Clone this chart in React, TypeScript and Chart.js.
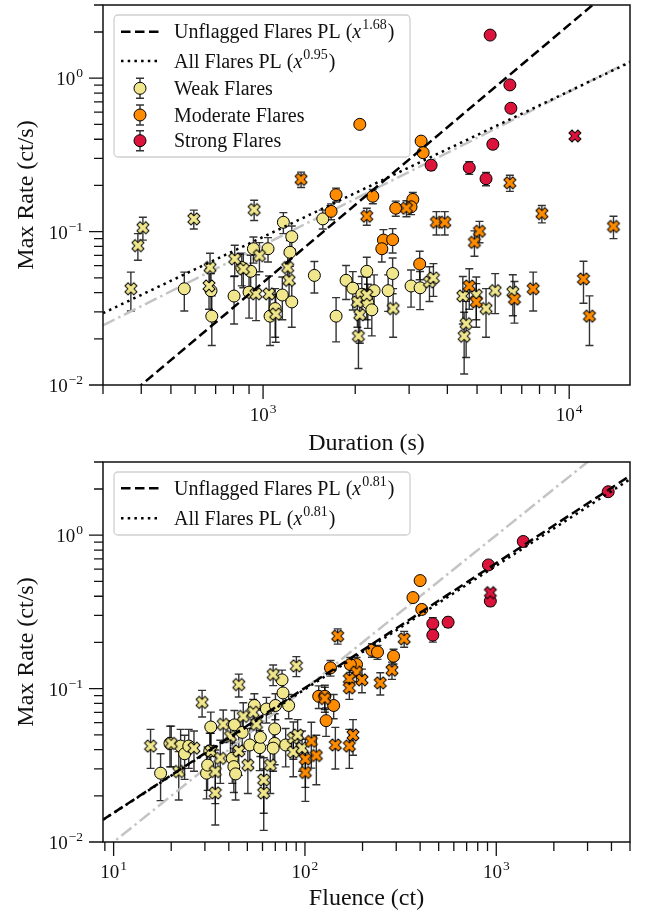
import { useEffect, useRef } from "react";
import { Chart, registerables } from "chart.js";

Chart.register(...registerables);

const SERIF = '"Liberation Serif", "Times New Roman", serif';
const INK = "#111111";
const WEAK = "#F0E68C";
const MODERATE = "#FF8C00";
const STRONG = "#DC143C";

// ---------- axis limits ----------
const RATE_MIN = 0.01;
const RATE_MAX = 3.0;
const RATE_DECADES = [-2, -1, 0];

const DURATION_MIN = 300;
const DURATION_MAX = 15800;
const DURATION_DECADES = [3, 4];

const FLUENCE_MIN = 8.8;
const FLUENCE_MAX = 5000;
const FLUENCE_DECADES = [1, 2, 3];

// ---------- duration panel: duration (s), max rate (ct/s), rate error (ct/s) ----------
const wkDur = [553, 676, 680, 804, 852, 911, 930, 1038, 900, 1054, 1095, 1156, 1241, 1165, 1241, 1224, 1471, 1567, 1732, 1867, 1964, 2182, 2102, 2199, 2266, 2305, 2562, 2650, 3044, 3258];
const wkDurRate = [0.0424, 0.0412, 0.0281, 0.038, 0.0583, 0.0551, 0.0773, 0.0773, 0.0403, 0.0281, 0.0315, 0.0386, 0.0348, 0.115, 0.0927, 0.0733, 0.0518, 0.121, 0.0281, 0.0481, 0.0428, 0.0551, 0.039, 0.0344, 0.0309, 0.0412, 0.0412, 0.0533, 0.0442, 0.043];
const wkDurErr = [0.012, 0.012, 0.01, 0.013, 0.014, 0.015, 0.015, 0.014, 0.013, 0.01, 0.011, 0.012, 0.011, 0.018, 0.016, 0.014, 0.012, 0.017, 0.009, 0.012, 0.012, 0.013, 0.012, 0.011, 0.01, 0.011, 0.011, 0.014, 0.012, 0.012];

const wkfDur = [370, 390, 405, 594, 935, 671, 666, 808, 862, 973, 949, 1046, 1100, 1204, 1216, 2033, 2070, 2049, 2182, 2660, 3496, 3602, 4494, 4606, 4538, 4972, 5350, 5731, 6546];
const wkfDurRate = [0.0424, 0.081, 0.106, 0.121, 0.139, 0.0583, 0.0442, 0.0664, 0.057, 0.0697, 0.0393, 0.0393, 0.029, 0.0583, 0.0481, 0.0348, 0.0287, 0.0208, 0.0386, 0.0315, 0.047, 0.0498, 0.038, 0.0251, 0.0208, 0.0386, 0.0315, 0.0412, 0.0403];
const wkfDurErr = [0.012, 0.016, 0.018, 0.017, 0.021, 0.014, 0.013, 0.015, 0.014, 0.015, 0.013, 0.012, 0.01, 0.013, 0.013, 0.011, 0.01, 0.008, 0.012, 0.011, 0.012, 0.012, 0.013, 0.01, 0.009, 0.012, 0.011, 0.012, 0.012];

const mdDur = [2070, 3283, 3334, 1732, 1668, 2283, 2713, 3085, 3044, 2473, 2650, 2443, 3248];
const mdDurRate = [0.5, 0.389, 0.327, 0.174, 0.1355, 0.17, 0.142, 0.162, 0.145, 0.088, 0.0885, 0.0773, 0.0615];
const mdDurErr = [0.02, 0.02, 0.02, 0.018, 0.016, 0.018, 0.016, 0.018, 0.016, 0.015, 0.016, 0.014, 0.013];

const mdfDur = [1331, 2182, 2940, 3684, 3922, 5092, 4903, 6401, 8143, 13955, 11136, 11649, 7627, 6625, 4972, 4716];
const mdfDurRate = [0.219, 0.126, 0.142, 0.115, 0.115, 0.1005, 0.0851, 0.208, 0.131, 0.108, 0.0491, 0.0281, 0.0424, 0.0363, 0.0348, 0.0442];
const mdfDurErr = [0.025, 0.016, 0.017, 0.02, 0.02, 0.016, 0.016, 0.025, 0.017, 0.018, 0.015, 0.01, 0.012, 0.011, 0.011, 0.013];

const stDur = [5518, 6401, 6450, 5632, 3540, 4716, 5350];
const stDurRate = [1.91, 0.904, 0.637, 0.371, 0.271, 0.261, 0.221];
const stDurErr = [0.03, 0.03, 0.03, 0.025, 0.02, 0.025, 0.022];

const stfDur = [10438];
const stfDurRate = [0.42];
const stfDurErr = [0.02];

// ---------- fluence panel: fluence (ct), max rate (ct/s), rate error (ct/s) ----------
const wkFlu = [17.6, 19.7, 22.4, 23.5, 24.7, 30.6, 31.0, 31.8, 32.2, 42.8, 47.0, 41.7, 42.5, 43.4, 51.5, 54.4, 58.0, 58.5, 62.9, 70.1, 69.5, 69.5, 68.2, 75.9, 76.8, 82.2, 79.3];
const wkFluRate = [0.0281, 0.0439, 0.0422, 0.0376, 0.0422, 0.0281, 0.0317, 0.0392, 0.0562, 0.058, 0.0518, 0.0351, 0.031, 0.0278, 0.0429, 0.0776, 0.0412, 0.0481, 0.0736, 0.0776, 0.0546, 0.0439, 0.0409, 0.114, 0.0937, 0.0776, 0.0429];
const wkFluErr = [0.0095, 0.013, 0.012, 0.012, 0.012, 0.009, 0.01, 0.012, 0.014, 0.014, 0.013, 0.011, 0.01, 0.009, 0.012, 0.015, 0.012, 0.012, 0.014, 0.015, 0.014, 0.012, 0.012, 0.018, 0.016, 0.014, 0.012];

const wkfFlu = [15.6, 20.0, 21.9, 26.3, 29.0, 32.2, 34.0, 34.0, 37.4, 36.1, 40.8, 45.1, 45.1, 47.6, 50.3, 53.6, 55.8, 60.9, 60.9, 65.9, 68.2, 87.0, 86.9, 90.2, 91.6, 96.6];
const wkfFluRate = [0.0422, 0.0439, 0.0288, 0.0409, 0.0813, 0.0392, 0.0288, 0.0209, 0.0585, 0.0351, 0.0488, 0.1062, 0.0392, 0.0659, 0.0317, 0.07, 0.0585, 0.0254, 0.0209, 0.0317, 0.1235, 0.0476, 0.0386, 0.1406, 0.0498, 0.0409];
const wkfFluErr = [0.012, 0.013, 0.01, 0.012, 0.016, 0.012, 0.011, 0.008, 0.014, 0.011, 0.013, 0.018, 0.012, 0.015, 0.011, 0.015, 0.014, 0.01, 0.009, 0.011, 0.019, 0.013, 0.012, 0.021, 0.013, 0.012];

const mdFlu = [400, 367, 408, 224, 239.5, 290.5, 136, 186, 172.6, 118, 127, 141.3, 129];
const mdFluRate = [0.506, 0.392, 0.328, 0.178, 0.173, 0.1626, 0.1365, 0.1435, 0.1435, 0.0891, 0.0891, 0.0776, 0.0618];
const mdFluErr = [0.02, 0.02, 0.02, 0.018, 0.018, 0.018, 0.016, 0.016, 0.016, 0.015, 0.016, 0.014, 0.013];

const mdfFlu = [148.3, 330, 186, 198.6, 170.6, 170.6, 247.6, 285, 127, 108, 100.5, 114.7, 100.5, 144.2, 170.6, 178.3];
const mdfFluRate = [0.22, 0.211, 0.128, 0.114, 0.1157, 0.101, 0.1089, 0.1318, 0.0861, 0.0453, 0.0347, 0.0366, 0.0284, 0.0429, 0.0422, 0.0498];
const mdfFluErr = [0.025, 0.025, 0.017, 0.02, 0.02, 0.016, 0.018, 0.017, 0.016, 0.015, 0.012, 0.013, 0.01, 0.013, 0.012, 0.013];

const stFlu = [3846, 1384, 910, 931, 466, 466, 560];
const stFluRate = [1.92, 0.91, 0.64, 0.372, 0.265, 0.223, 0.271];
const stFluErr = [0.03, 0.03, 0.03, 0.025, 0.025, 0.022, 0.02];

const stfFlu = [931];
const stfFluRate = [0.422];
const stfFluErr = [0.02];

// ---------- power-law fits: rate = norm * (x / pivot) ** index ----------
const DUR_PIVOT = 1000;
const durUnflaggedIndex = 1.68;
const durUnflaggedNorm = 0.0466;
const durAllIndex = 0.95;
const durAllNorm = 0.0923;
const durReferenceNorm = 1000 / 12250; // slope-one guide, rate at 1000 s

const FLU_PIVOT = 1000;
const fluUnflaggedIndex = 0.814;
const fluUnflaggedNorm = 0.658;
const fluAllIndex = 0.806;
const fluAllNorm = 0.633;
const fluReferenceNorm = 1.0; // rate = fluence / 1000 s

type Pt = { x: number; y: number; e: number };
const points = (xs: number[], ys: number[], es: number[]): Pt[] =>
  xs.map((x, i) => ({ x, y: ys[i], e: es[i] }));

const powerLine = (pivot: number, norm: number, index: number, lo: number, hi: number) =>
  [lo, hi].map((x) => ({ x, y: norm * Math.pow(x / pivot, index) }));

// filled "X" marker
function crossMarker(fill: string): HTMLCanvasElement {
  const s = 18;
  const c = document.createElement("canvas");
  c.width = s;
  c.height = s;
  const g = c.getContext("2d")!;
  g.translate(s / 2, s / 2);
  g.rotate(Math.PI / 4);
  const r = 6.3;
  const h = 2.2;
  g.beginPath();
  g.moveTo(h, h);
  g.lineTo(h, r);
  g.lineTo(-h, r);
  g.lineTo(-h, h);
  g.lineTo(-r, h);
  g.lineTo(-r, -h);
  g.lineTo(-h, -h);
  g.lineTo(-h, -r);
  g.lineTo(h, -r);
  g.lineTo(h, -h);
  g.lineTo(r, -h);
  g.lineTo(r, h);
  g.closePath();
  g.fillStyle = fill;
  g.fill();
  g.lineWidth = 1;
  g.strokeStyle = "#000";
  g.lineJoin = "miter";
  g.stroke();
  return c;
}

function scatterSet(data: Pt[], color: string, crossed: boolean) {
  return {
    type: "scatter",
    data,
    errorBars: true,
    pointStyle: crossed ? crossMarker(color) : "circle",
    pointRadius: crossed ? 6.5 : 6,
    backgroundColor: color,
    borderColor: "#000",
    borderWidth: crossed ? 0 : 1,
  };
}

function lineSet(data: { x: number; y: number }[], color: string, dash: number[], width = 2.5) {
  return {
    type: "line",
    data,
    borderColor: color,
    borderWidth: width,
    borderDash: dash,
    borderCapStyle: "butt",
    pointRadius: 0,
    fill: false,
    tension: 0,
    clip: 0,
  };
}

const DASH = [9.5, 4.5];
const DOT = [2.5, 4.2];
const DASH_DOT = [13, 4, 2.5, 4];

type Row = { kind: "dash" | "dot" | "marker"; color?: string; text: string; exp?: string; y: number };

interface Panel {
  xMin: number;
  xMax: number;
  xDecades: number[];
  padTop: number;
  xAxisHeight: number;
  xTitle: string;
  legendBox: [number, number, number, number];
  rows: Row[];
  datasets: any[];
}

function logTicks(min: number, max: number) {
  const out: { v: number; major: boolean }[] = [];
  for (let k = Math.floor(Math.log10(min)); k <= Math.ceil(Math.log10(max)); k++) {
    for (let m = 1; m <= 9; m++) {
      const v = m * Math.pow(10, k);
      if (v >= min * 0.9999 && v <= max * 1.0001) out.push({ v, major: m === 1 });
    }
  }
  return out;
}

function drawPower(ctx: CanvasRenderingContext2D, exp: number, x: number, baseline: number, align: "center" | "right") {
  const base = "10";
  const sup = exp < 0 ? "\u2212" + Math.abs(exp) : String(exp);
  ctx.font = `19px ${SERIF}`;
  const bw = ctx.measureText(base).width;
  ctx.font = `13.5px ${SERIF}`;
  const sw = ctx.measureText(sup).width;
  const total = bw + 1 + sw;
  const sx = align === "center" ? x - total / 2 : x - total;
  ctx.textAlign = "left";
  ctx.textBaseline = "alphabetic";
  ctx.font = `19px ${SERIF}`;
  ctx.fillText(base, sx, baseline);
  ctx.font = `13.5px ${SERIF}`;
  ctx.fillText(sup, sx + bw + 1, baseline - 8);
}

const errorBarPlugin = {
  id: "errorBars",
  beforeDatasetsDraw(chart: any) {
    const { ctx, chartArea: a } = chart;
    const xs = chart.scales.x;
    const ys = chart.scales.y;
    ctx.save();
    ctx.beginPath();
    ctx.rect(a.left, a.top, a.right - a.left, a.bottom - a.top);
    ctx.clip();
    ctx.strokeStyle = "rgba(0,0,0,0.8)";
    ctx.lineWidth = 1.4;
    for (const ds of chart.data.datasets) {
      if (!ds.errorBars) continue;
      for (const p of ds.data as Pt[]) {
        const px = xs.getPixelForValue(p.x);
        const top = ys.getPixelForValue(p.y + p.e);
        const bot = ys.getPixelForValue(Math.max(p.y - p.e, 1e-4));
        ctx.beginPath();
        ctx.moveTo(px, top);
        ctx.lineTo(px, bot);
        ctx.moveTo(px - 4, top);
        ctx.lineTo(px + 4, top);
        ctx.moveTo(px - 4, bot);
        ctx.lineTo(px + 4, bot);
        ctx.stroke();
      }
    }
    ctx.restore();
  },
};

function legendPlugin(p: Panel) {
  return {
    id: "flareLegend",
    beforeDatasetsDraw(chart: any) {
      const ctx: CanvasRenderingContext2D = chart.ctx;
      const [bx, by, bw, bh] = p.legendBox;
      ctx.save();
      ctx.beginPath();
      ctx.roundRect(bx, by, bw, bh, 4);
      ctx.fillStyle = "rgba(255,255,255,0.85)";
      ctx.fill();
      ctx.strokeStyle = "#d0d0d0";
      ctx.lineWidth = 1.3;
      ctx.stroke();
      for (const r of p.rows) {
        ctx.setLineDash([]);
        ctx.strokeStyle = "#000";
        if (r.kind === "dash" || r.kind === "dot") {
          ctx.lineWidth = 2.5;
          ctx.lineCap = "butt";
          ctx.setLineDash(r.kind === "dash" ? DASH : DOT);
          ctx.beginPath();
          ctx.moveTo(121, r.y);
          ctx.lineTo(159, r.y);
          ctx.stroke();
          ctx.setLineDash([]);
        } else {
          ctx.lineWidth = 1.4;
          ctx.strokeStyle = "rgba(0,0,0,0.8)";
          ctx.beginPath();
          ctx.moveTo(140, r.y - 10);
          ctx.lineTo(140, r.y + 10);
          ctx.moveTo(136, r.y - 10);
          ctx.lineTo(144, r.y - 10);
          ctx.moveTo(136, r.y + 10);
          ctx.lineTo(144, r.y + 10);
          ctx.stroke();
          ctx.beginPath();
          ctx.arc(140, r.y, 6, 0, Math.PI * 2);
          ctx.fillStyle = r.color!;
          ctx.fill();
          ctx.lineWidth = 1;
          ctx.strokeStyle = "#000";
          ctx.stroke();
        }
        ctx.fillStyle = INK;
        ctx.textAlign = "left";
        ctx.textBaseline = "alphabetic";
        ctx.font = `20px ${SERIF}`;
        const base = r.y + 6.5;
        ctx.fillText(r.text, 174, base);
        if (r.exp) {
          let x = 174 + ctx.measureText(r.text).width;
          ctx.font = `italic 20px ${SERIF}`;
          ctx.fillText("x", x, base);
          x += ctx.measureText("x").width + 1;
          ctx.font = `14px ${SERIF}`;
          ctx.fillText(r.exp, x, base - 9);
          x += ctx.measureText(r.exp).width + 1;
          ctx.font = `20px ${SERIF}`;
          ctx.fillText(")", x, base);
        }
      }
      ctx.restore();
    },
  };
}

function framePlugin(p: Panel) {
  return {
    id: "frame",
    afterDraw(chart: any) {
      const ctx: CanvasRenderingContext2D = chart.ctx;
      const a = chart.chartArea;
      const xs = chart.scales.x;
      const ys = chart.scales.y;
      ctx.save();
      ctx.setLineDash([]);
      ctx.strokeStyle = INK;
      ctx.lineWidth = 1.5;
      ctx.strokeRect(a.left, a.top, a.right - a.left, a.bottom - a.top);

      ctx.lineWidth = 1.3;
      ctx.beginPath();
      for (const t of logTicks(p.xMin, p.xMax)) {
        const px = xs.getPixelForValue(t.v);
        ctx.moveTo(px, a.bottom);
        ctx.lineTo(px, a.bottom + (t.major ? 14 : 9));
      }
      for (const t of logTicks(RATE_MIN, RATE_MAX)) {
        const py = ys.getPixelForValue(t.v);
        ctx.moveTo(a.left, py);
        ctx.lineTo(a.left - (t.major ? 14 : 9), py);
      }
      ctx.stroke();

      ctx.fillStyle = INK;
      for (const e of p.xDecades) {
        drawPower(ctx, e, xs.getPixelForValue(Math.pow(10, e)), a.bottom + 36, "center");
      }
      for (const e of RATE_DECADES) {
        drawPower(ctx, e, a.left - 20, ys.getPixelForValue(Math.pow(10, e)) + 7, "right");
      }

      ctx.font = `24px ${SERIF}`;
      ctx.textAlign = "center";
      ctx.textBaseline = "alphabetic";
      ctx.fillText(p.xTitle, (a.left + a.right) / 2, 450);
      ctx.translate(33, (a.top + a.bottom) / 2);
      ctx.rotate(-Math.PI / 2);
      ctx.fillText("Max Rate (ct/s)", 0, 0);
      ctx.restore();
    },
  };
}

function buildConfig(p: Panel): any {
  return {
    type: "scatter",
    data: { datasets: p.datasets },
    options: {
      responsive: false,
      animation: false,
      devicePixelRatio: 1,
      events: [],
      layout: { padding: { top: p.padTop, right: 21, left: 0, bottom: 0 }, autoPadding: false },
      plugins: { legend: { display: false }, tooltip: { enabled: false } },
      scales: {
        x: {
          type: "logarithmic",
          min: p.xMin,
          max: p.xMax,
          bounds: "data",
          grid: { display: false },
          border: { display: false },
          ticks: { display: false },
          afterFit: (s: any) => {
            s.height = p.xAxisHeight;
          },
        },
        y: {
          type: "logarithmic",
          min: RATE_MIN,
          max: RATE_MAX,
          bounds: "data",
          grid: { display: false },
          border: { display: false },
          ticks: { display: false },
          afterFit: (s: any) => {
            s.width = 103;
          },
        },
      },
    },
    plugins: [errorBarPlugin, legendPlugin(p), framePlugin(p)],
  };
}

function durationPanel(): Panel {
  const lo = DURATION_MIN;
  const hi = DURATION_MAX;
  return {
    xMin: lo,
    xMax: hi,
    xDecades: DURATION_DECADES,
    padTop: 5,
    xAxisHeight: 70,
    xTitle: "Duration (s)",
    legendBox: [114, 15, 296, 142],
    rows: [
      { kind: "dash", text: "Unflagged Flares PL (", exp: "1.68", y: 31.7 },
      { kind: "dot", text: "All Flares PL (", exp: "0.95", y: 61 },
      { kind: "marker", color: WEAK, text: "Weak Flares", y: 88.3 },
      { kind: "marker", color: MODERATE, text: "Moderate Flares", y: 115 },
      { kind: "marker", color: STRONG, text: "Strong Flares", y: 140.7 },
    ],
    datasets: [
      lineSet(powerLine(DUR_PIVOT, durUnflaggedNorm, durUnflaggedIndex, lo, hi), "#000", DASH),
      lineSet(powerLine(DUR_PIVOT, durAllNorm, durAllIndex, lo, hi), "#000", DOT),
      scatterSet(points(stfDur, stfDurRate, stfDurErr), STRONG, true),
      scatterSet(points(mdfDur, mdfDurRate, mdfDurErr), MODERATE, true),
      scatterSet(points(wkfDur, wkfDurRate, wkfDurErr), WEAK, true),
      scatterSet(points(stDur, stDurRate, stDurErr), STRONG, false),
      scatterSet(points(mdDur, mdDurRate, mdDurErr), MODERATE, false),
      scatterSet(points(wkDur, wkDurRate, wkDurErr), WEAK, false),
      lineSet(powerLine(DUR_PIVOT, durReferenceNorm, 1, lo, hi), "#c4c4c4", DASH_DOT),
    ],
  };
}

function fluencePanel(): Panel {
  const lo = FLUENCE_MIN;
  const hi = FLUENCE_MAX;
  return {
    xMin: lo,
    xMax: hi,
    xDecades: FLUENCE_DECADES,
    padTop: 7,
    xAxisHeight: 68,
    xTitle: "Fluence (ct)",
    legendBox: [114, 17, 296, 63],
    rows: [
      { kind: "dash", text: "Unflagged Flares PL (", exp: "0.81", y: 33.3 },
      { kind: "dot", text: "All Flares PL (", exp: "0.81", y: 63.3 },
    ],
    datasets: [
      lineSet(powerLine(FLU_PIVOT, fluUnflaggedNorm, fluUnflaggedIndex, lo, hi), "#000", DASH),
      lineSet(powerLine(FLU_PIVOT, fluAllNorm, fluAllIndex, lo, hi), "#000", DOT),
      scatterSet(points(stfFlu, stfFluRate, stfFluErr), STRONG, true),
      scatterSet(points(mdfFlu, mdfFluRate, mdfFluErr), MODERATE, true),
      scatterSet(points(wkfFlu, wkfFluRate, wkfFluErr), WEAK, true),
      scatterSet(points(stFlu, stFluRate, stFluErr), STRONG, false),
      scatterSet(points(mdFlu, mdFluRate, mdFluErr), MODERATE, false),
      scatterSet(points(wkFlu, wkFluRate, wkFluErr), WEAK, false),
      lineSet(powerLine(FLU_PIVOT, fluReferenceNorm, 1, lo, hi), "#c4c4c4", DASH_DOT),
    ],
  };
}

export default function App() {
  const topRef = useRef<HTMLCanvasElement>(null);
  const bottomRef = useRef<HTMLCanvasElement>(null);

  useEffect(() => {
    const charts = [
      new Chart(topRef.current!, buildConfig(durationPanel())),
      new Chart(bottomRef.current!, buildConfig(fluencePanel())),
    ];
    return () => charts.forEach((c) => c.destroy());
  }, []);

  return (
    <div style={{ position: "absolute", left: 0, top: 0, width: 651, height: 910, background: "#fff" }}>
      <canvas ref={topRef} width={651} height={455} style={{ display: "block", width: 651, height: 455 }} />
      <canvas ref={bottomRef} width={651} height={455} style={{ display: "block", width: 651, height: 455 }} />
    </div>
  );
}
